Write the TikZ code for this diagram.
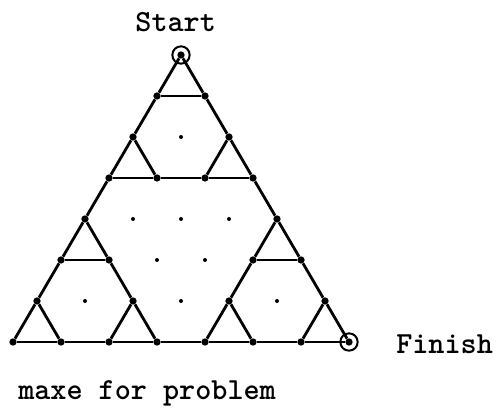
\documentclass[tikz,border=0pt]{standalone}
\usetikzlibrary{positioning}
\tikzset{
  vtx/.style={circle, fill=black, inner sep=0pt, minimum size=5.5pt},
  hole/.style={circle, fill=black, inner sep=0pt, minimum size=3pt},
  ring/.style={circle, draw=black, line width=1.5pt, inner sep=0pt, minimum size=13pt},
  link/.style={draw=black, line width=2.1pt},
  lbl/.style={font=\fontsize{23}{27}\selectfont\ttfamily\bfseries, inner sep=0pt, text=black},
}

\begin{document}
\begin{tikzpicture}[x={(36pt,0pt)}, y={(18pt,30.75pt)}]
  \useasboundingbox (-9.75pt,-53.25pt) rectangle (364.5pt,256.5pt);

  % the 27 points of the maze (triangular lattice, side 7)
  \foreach \a/\b in {0/0,1/0,0/1, 2/0,3/0,2/1, 0/2,1/2,0/3,
                     4/0,5/0,4/1, 6/0,7/0,6/1, 4/2,5/2,4/3,
                     0/4,1/4,0/5, 2/4,3/4,2/5, 0/6,1/6,0/7}
    \node[vtx] (v\a\b) at (\a,\b) {};

  % lattice points that are not in the maze
  \foreach \a/\b in {1/1,5/1,1/5, 1/3,2/3,3/3, 2/2,3/2,3/1}
    \node[hole] (h\a\b) at (\a,\b) {};

  % small triangles
  \foreach \a/\b in {0/0,2/0,0/2, 4/0,6/0,4/2, 0/4,2/4,0/6} {
    \pgfmathtruncatemacro\ap{\a+1}
    \pgfmathtruncatemacro\bp{\b+1}
    \draw[link] (v\a\b) -- (v\ap\b);
    \draw[link] (v\ap\b) -- (v\a\bp);
    \draw[link] (v\a\bp) -- (v\a\b);
  }

  % links between the triangles
  \foreach \ea/\eb in {10/20,01/02,21/12, 50/60,41/42,61/52, 14/24,05/06,25/16,
                       30/40,03/04,43/34}
    \draw[link] (v\ea) -- (v\eb);

  % start and finish
  \node[ring] (start)  at (v07) {};
  \node[ring] (finish) at (v70) {};
  \node[lbl, above=10pt of start, xshift=-4pt] (starttxt) {Start};
  \node[lbl, right=28pt of finish, yshift=-1.5pt] (finishtxt) {Finish};

  \node[lbl, anchor=base west] (caption) at (3.75pt,-43.5pt) {maxe for problem};
\end{tikzpicture}
\end{document}
